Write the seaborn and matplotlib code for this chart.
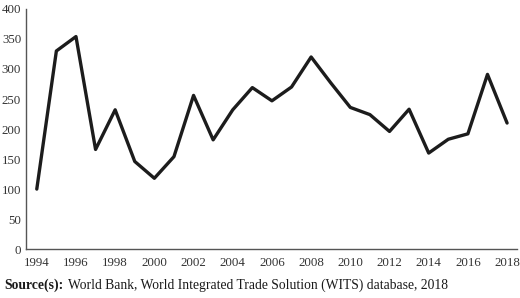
import matplotlib
matplotlib.use("Agg")
import matplotlib.pyplot as plt
import seaborn as sns
import pandas as pd

years = list(range(1994, 2019))
values = [100, 330, 354, 166, 232, 146, 118, 154, 256, 182, 232, 269, 247, 270, 320,
          277, 236, 224, 196, 233, 160, 183, 192, 291, 210]
xticks = list(range(1994, 2019, 2))
yticks = [0, 50, 100, 150, 200, 250, 300, 350, 400]

sns.set_theme(style="white")
plt.rcParams['font.family'] = ['Liberation Serif', 'DejaVu Serif']

df = pd.DataFrame({"year": years, "value": values})

fig = plt.figure(figsize=(5.2, 2.98), dpi=100)
ax = fig.add_axes([0.05, 0.164, 0.944, 0.806])
sns.lineplot(data=df, x="year", y="value", ax=ax, color="#1c1c1c", linewidth=2.4)

ax.set_xlim(1993.45, 2018.5)
ax.set_ylim(0, 400)
ax.set_xticks(xticks)
ax.set_xticklabels([str(t) for t in xticks])
ax.set_yticks(yticks)
ax.tick_params(axis='both', length=0, labelsize=9.3, colors="#333333")
ax.tick_params(axis='x', pad=6)
ax.tick_params(axis='y', pad=3.5)
ax.set_xlabel("")
ax.set_ylabel("")
for s in ["top", "right"]:
    ax.spines[s].set_visible(False)
for s in ["left", "bottom"]:
    ax.spines[s].set_color("#555555")
    ax.spines[s].set_linewidth(1.0)

t1 = fig.text(0.008, 0.03, "Source(s):", fontsize=9.8, fontweight="bold", color="#1a1a1a")
fig.canvas.draw()
bb = t1.get_window_extent(renderer=fig.canvas.get_renderer())
x1 = bb.x1 / fig.bbox.width
fig.text(x1 + 0.009, 0.03, "World Bank, World Integrated Trade Solution (WITS) database, 2018",
         fontsize=9.8, color="#1a1a1a")

fig.savefig("out.png", dpi=100)
